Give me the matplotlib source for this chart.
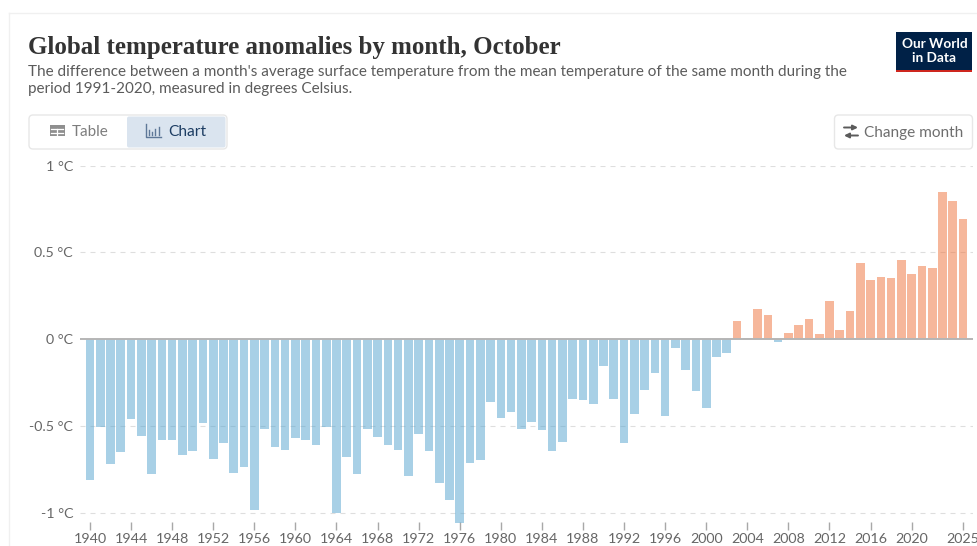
import numpy as np
from matplotlib import pyplot as plt
from matplotlib.patches import FancyBboxPatch, Rectangle

years = np.arange(1940, 2026)
anomaly = [-0.815, -0.508, -0.72, -0.65, -0.46, -0.558, -0.78, -0.58, -0.585, -0.67,
           -0.646, -0.483, -0.692, -0.598, -0.773, -0.738, -0.987, -0.52, -0.623, -0.638,
           -0.57, -0.58, -0.61, -0.506, -1.004, -0.68, -0.78, -0.52, -0.563, -0.61,
           -0.64, -0.792, -0.548, -0.644, -0.83, -0.929, -1.06, -0.717, -0.696, -0.363,
           -0.456, -0.42, -0.52, -0.477, -0.523, -0.648, -0.594, -0.346, -0.352, -0.375,
           -0.158, -0.348, -0.602, -0.43, -0.292, -0.196, -0.442, -0.054, -0.179, -0.302,
           -0.396, -0.106, -0.083, 0.104, 0.006, 0.171, 0.137, -0.015, 0.037, 0.079,
           0.115, 0.029, 0.219, 0.05, 0.162, 0.44, 0.34, 0.358, 0.354, 0.454,
           0.375, 0.421, 0.408, 0.85, 0.798, 0.694]
xtick_years = list(range(1940, 2021, 4)) + [2025]
ytick_vals = [1, 0.5, 0, -0.5, -1]
ytick_labels = ['1 °C', '0.5 °C', '0 °C', '-0.5 °C', '-1 °C']

W, H = 978, 546
plt.rcParams['font.family'] = ['Lato', 'DejaVu Sans']
fig = plt.figure(figsize=(W / 100, H / 100), dpi=100, facecolor='white')

# page chrome, in pixels
bg = fig.add_axes([0, 0, 1, 1])
bg.set_xlim(0, W)
bg.set_ylim(H, 0)
bg.axis('off')
bg.plot([9, 9], [13, H], color='#f0f0f0', lw=1)
bg.plot([9, W], [13, 13], color='#f0f0f0', lw=1)

bg.text(28, 47.5, 'Global temperature anomalies by month, October', family='Liberation Serif',
        weight='bold', fontsize=17.98, color='#333333', va='center')
bg.text(28, 72, "The difference between a month's average surface temperature from the mean temperature of the same month during the",
        fontsize=11, color='#5b5b5b', va='center')
bg.text(28, 89.5, 'period 1991-2020, measured in degrees Celsius.',
        fontsize=11, color='#5b5b5b', va='center')

# logo
bg.add_patch(Rectangle((896, 32), 76, 40, fc='#002147', ec='none'))
bg.add_patch(Rectangle((896, 69.5), 76, 2.5, fc='#ce261e', ec='none'))
bg.text(934.5, 44.5, 'Our World', color='white', fontsize=9.8, weight='bold', ha='center', va='center')
bg.text(934.5, 58, 'in Data', color='white', fontsize=9.8, weight='bold', ha='center', va='center')

# table / chart toggle
bg.add_patch(FancyBboxPatch((29, 115), 198, 34, boxstyle='round,pad=0,rounding_size=4',
                            fc='white', ec='#e7e7e7', lw=1))
bg.add_patch(FancyBboxPatch((127, 116.5), 98.5, 31, boxstyle='round,pad=0,rounding_size=2',
                            fc='#dae4ef', ec='none'))
bg.add_patch(Rectangle((49.5, 125), 15, 11, fc='#8f8f8f', ec='none'))
bg.plot([51, 63], [128.5, 128.5], color='white', lw=0.9)
bg.plot([51, 63], [132.5, 132.5], color='white', lw=0.9)
bg.plot([57, 57], [128.5, 135], color='white', lw=0.9)
bg.text(72, 131.5, 'Table', fontsize=11, color='#7d7d7d', va='center')
bg.plot([146, 146, 160.5], [124, 136.5, 136.5], color='#5e7898', lw=1)
for ix, top in zip([149, 152, 155, 158.5], [130, 132, 129, 127]):
    bg.plot([ix, ix], [top, 134.5], color='#5e7898', lw=1)
bg.text(168, 131.5, 'Chart', fontsize=11.2, color='#1d3d63', va='center')

# change month button
bg.add_patch(FancyBboxPatch((834.5, 115), 138, 34, boxstyle='round,pad=0,rounding_size=4',
                            fc='white', ec='#e7e7e7', lw=1))
bg.annotate('', xy=(858, 127.5), xytext=(844, 127.5),
            arrowprops=dict(arrowstyle='-|>', color='#5b5b5b', lw=1.4, mutation_scale=7, shrinkA=0, shrinkB=0))
bg.annotate('', xy=(844, 135.5), xytext=(858, 135.5),
            arrowprops=dict(arrowstyle='-|>', color='#5b5b5b', lw=1.4, mutation_scale=7, shrinkA=0, shrinkB=0))
bg.text(863.5, 132.5, 'Change month', fontsize=11.1, color='#6e6e6e', va='center')

# chart, placed so that 1940 sits at x=90 and 2025 at x=963
left, right, top, bottom = 80, 973, 165.5, 522
px_per_year = (963 - 90) / 85
ax = fig.add_axes([left / W, 1 - bottom / H, (right - left) / W, (bottom - top) / H])
ax.patch.set_alpha(0)
ax.set_xlim(1940 + (left - 90) / px_per_year, 1940 + (right - 90) / px_per_year)
ax.set_ylim((339 - bottom) / 173.5, 1)

colors = ['#ef753f' if v > 0 else '#58a5cf' for v in anomaly]
ax.bar(years, anomaly, width=0.84, color=colors, alpha=0.52, linewidth=0, zorder=2, clip_on=False)

for v in ytick_vals:
    if v != 0:
        ax.axhline(v, color='#dedede', lw=0.8, dashes=(4.5, 4.5), zorder=1)
ax.axhline(0, color='#b5b5b5', lw=1.4, zorder=3)

for s in ax.spines.values():
    s.set_visible(False)
ax.set_yticks(ytick_vals)
ax.set_yticklabels(ytick_labels)
ax.set_xticks(xtick_years)
ax.tick_params(axis='y', length=0, pad=5, labelsize=10.3, labelcolor='#666666')
ax.tick_params(axis='x', length=6, width=1, color='#a8a8a8', pad=2, labelsize=10.3, labelcolor='#666666')

fig.savefig('out.png', dpi=100)
